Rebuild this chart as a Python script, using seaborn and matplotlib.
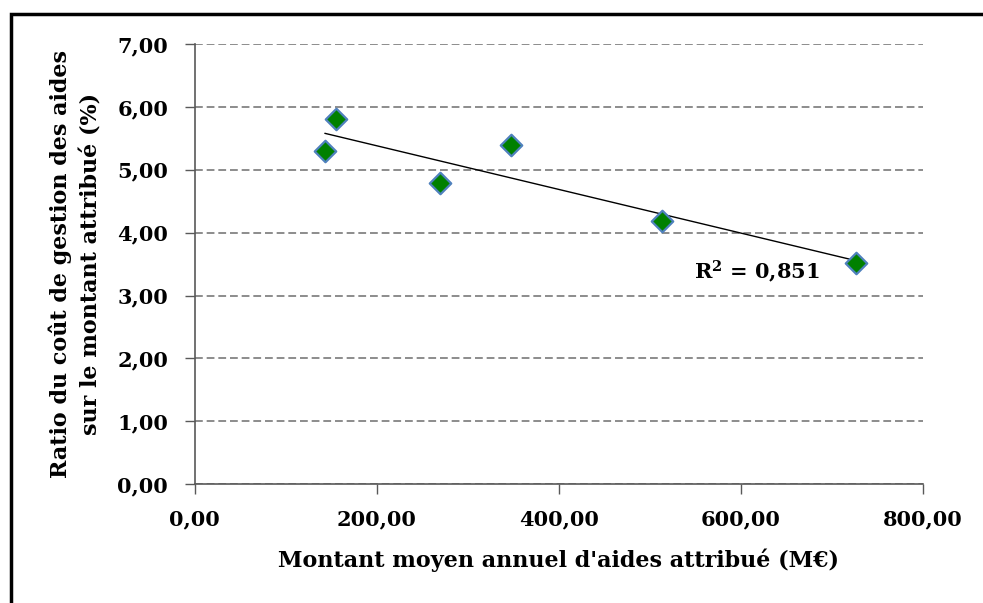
import numpy as np
import pandas as pd
import matplotlib
matplotlib.use("Agg")
import matplotlib.pyplot as plt
import seaborn as sns
from matplotlib.ticker import FuncFormatter, MultipleLocator
from matplotlib.patches import Rectangle

# === DATA ===
montant = [143, 155, 269, 348, 513, 726]      # M€
ratio = [5.30, 5.80, 4.79, 5.39, 4.19, 3.51]  # %
r2_label = r"R$^\mathbf{2}$ = 0,851"

df = pd.DataFrame({"montant": montant, "ratio": ratio})

# === STYLE ===
sns.set_style("white")
plt.rcParams["font.family"] = ["DejaVu Serif"]
plt.rcParams["font.weight"] = "bold"
plt.rcParams["mathtext.fontset"] = "dejavuserif"
plt.rcParams["mathtext.default"] = "bf"
plt.rcParams["text.color"] = "black"
plt.rcParams["axes.labelcolor"] = "black"
plt.rcParams["xtick.color"] = "black"
plt.rcParams["ytick.color"] = "black"

fig = plt.figure(figsize=(9.83, 6.03), dpi=100)
ax = fig.add_axes([0.198, 0.197, 0.741, 0.730])

sns.regplot(data=df, x="montant", y="ratio", scatter=False, ci=None,
            color="black", line_kws={"linewidth": 1.0}, ax=ax)
sns.scatterplot(data=df, x="montant", y="ratio", marker="D", s=120,
                color="#008000", edgecolor="#4F81BD", linewidth=1.6,
                zorder=5, ax=ax)

ax.set_xlim(0, 800)
ax.set_ylim(0, 7)
ax.xaxis.set_major_locator(MultipleLocator(200))
ax.yaxis.set_major_locator(MultipleLocator(1))
fmt = FuncFormatter(lambda v, p: f"{v:.2f}".replace(".", ","))
ax.xaxis.set_major_formatter(fmt)
ax.yaxis.set_major_formatter(fmt)

ax.yaxis.grid(True, linestyle=(0, (4, 2)), color="#8C8C8C", linewidth=1.4)
ax.set_axisbelow(True)
for side in ["top", "right"]:
    ax.spines[side].set_visible(False)
for side in ["left", "bottom"]:
    ax.spines[side].set_color("#595959")
    ax.spines[side].set_linewidth(1.2)
ax.tick_params(axis="both", which="major", direction="out", length=7,
               width=1.0, color="#595959", labelsize=15, labelcolor="black",
               left=True, bottom=True)
ax.tick_params(axis="y", pad=12)
ax.tick_params(axis="x", pad=11)
for lab in ax.get_xticklabels() + ax.get_yticklabels():
    lab.set_fontweight("bold")

ax.set_xlabel("Montant moyen annuel d'aides attribué (M€)", fontsize=16,
              fontweight="bold", labelpad=14)
ax.set_ylabel("Ratio du coût de gestion des aides\nsur le montant attribué (%)",
              fontsize=16, fontweight="bold", labelpad=11, linespacing=1.45)

ax.text(548, 3.38, r2_label, fontsize=15, fontweight="bold", va="center", ha="left")

# black frame around chart area
fig.patches.append(Rectangle((11 / 983, -0.05), 1.05, 1 - 14 / 603 + 0.05,
                             transform=fig.transFigure, fill=False,
                             edgecolor="black", linewidth=2.5, clip_on=False))

fig.savefig("out.png", dpi=100)
